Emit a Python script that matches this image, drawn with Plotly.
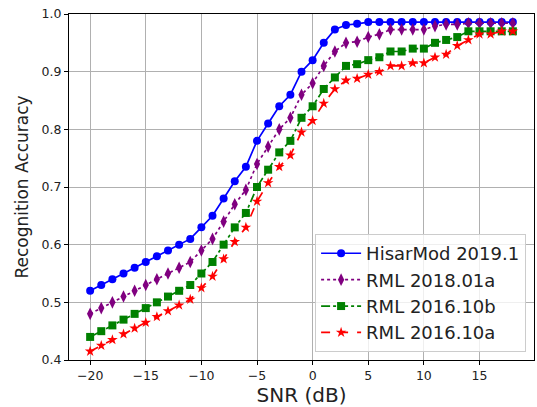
import plotly.graph_objects as go

snr = list(range(-20, 19))

hisarmod = [0.52, 0.53, 0.54, 0.55, 0.56, 0.57, 0.58, 0.59, 0.60, 0.61,
            0.63, 0.65, 0.68, 0.71, 0.735, 0.78, 0.81, 0.84, 0.86, 0.90,
            0.92, 0.95, 0.973, 0.981, 0.983, 0.986, 0.986, 0.986, 0.986, 0.986,
            0.986, 0.986, 0.986, 0.986, 0.986, 0.986, 0.986, 0.986, 0.986]
rml2018 = [0.48, 0.49, 0.50, 0.51, 0.52, 0.53, 0.54, 0.55, 0.56, 0.57,
           0.59, 0.61, 0.64, 0.67, 0.695, 0.74, 0.77, 0.80, 0.82, 0.86,
           0.88, 0.91, 0.935, 0.95, 0.952, 0.96, 0.965, 0.973, 0.973, 0.973,
           0.973, 0.979, 0.982, 0.982, 0.984, 0.984, 0.984, 0.984, 0.984]
rml2016b = [0.44, 0.45, 0.46, 0.47, 0.48, 0.49, 0.50, 0.51, 0.52, 0.53,
            0.55, 0.57, 0.60, 0.63, 0.655, 0.70, 0.73, 0.76, 0.78, 0.82,
            0.84, 0.87, 0.89, 0.91, 0.913, 0.92, 0.925, 0.935, 0.935, 0.94,
            0.94, 0.95, 0.955, 0.96, 0.97, 0.97, 0.97, 0.97, 0.97]
rml2016a = [0.415, 0.425, 0.435, 0.445, 0.455, 0.465, 0.475, 0.485, 0.495, 0.505,
            0.525, 0.545, 0.575, 0.605, 0.63, 0.675, 0.707, 0.735, 0.755, 0.795,
            0.815, 0.845, 0.87, 0.885, 0.888, 0.895, 0.90, 0.91, 0.91, 0.915,
            0.915, 0.925, 0.93, 0.945, 0.955, 0.965, 0.965, 0.97, 0.97]

series = [
    ("HisarMod 2019.1", hisarmod, "blue", "solid", "circle", 8),
    ("RML 2018.01a", rml2018, "purple", "dot", "diamond-tall", 9),
    ("RML 2016.10b", rml2016b, "green", "dashdot", "square", 8),
    ("RML 2016.10a", rml2016a, "red", "dash", "star", 8),
]

fig = go.Figure()
for name, vals, col, dash, sym, sz in series:
    fig.add_trace(go.Scatter(
        x=snr, y=vals, name=name, mode="lines+markers",
        line=dict(color=col, width=1.7, dash=dash),
        marker=dict(color=col, symbol=sym, size=sz, line=dict(width=0)),
    ))

axis_common = dict(
    showline=True, linecolor="black", linewidth=1, mirror=True,
    ticks="outside", ticklen=4, tickcolor="black",
    showgrid=True, gridcolor="#b0b0b0", gridwidth=1,
    zeroline=False, tickfont=dict(size=12.5, color="#222"),
)

fig.update_layout(
    width=537, height=407,
    margin=dict(l=69, r=3, t=14, b=47),
    paper_bgcolor="white", plot_bgcolor="white",
    font=dict(family="DejaVu Sans", color="#222"),
    xaxis=dict(range=[-21.9, 19.9], tickmode="linear", tick0=-20, dtick=5,
               title=dict(text="SNR (dB)", font=dict(size=20), standoff=4),
               **axis_common),
    yaxis=dict(range=[0.4, 1.0], tickmode="linear", tick0=0.4, dtick=0.1,
               tickformat=".1f",
               title=dict(text="Recognition Accuracy", font=dict(size=17), standoff=8),
               **axis_common),
    legend=dict(x=0.983, y=0.023, xanchor="right", yanchor="bottom",
                bgcolor="rgba(255,255,255,0.8)", bordercolor="#cccccc",
                borderwidth=1, font=dict(size=18, color="#222"),
                itemwidth=40),
    showlegend=True,
)

fig.write_html("out.html")
